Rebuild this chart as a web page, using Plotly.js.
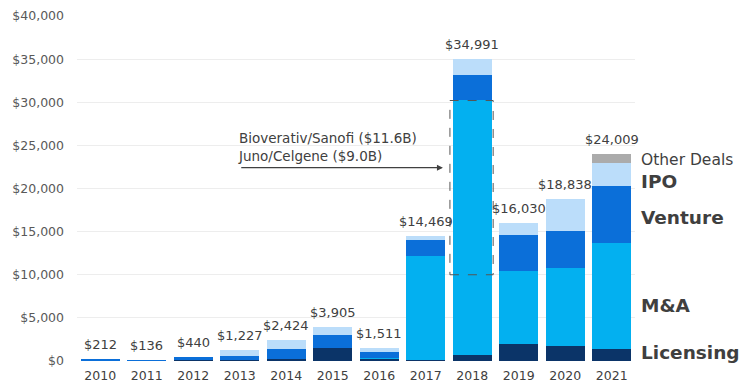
<!DOCTYPE html>
<html>
<head>
<meta charset="utf-8">
<script src="https://cdn.plot.ly/plotly-3.0.1.min.js"></script>
<style>html,body{margin:0;padding:0;background:#fff;}#chart{width:755px;height:388px;}</style>
</head>
<body>
<div id="chart"></div>
<script>
var years = ['2010','2011','2012','2013','2014','2015','2016','2017','2018','2019','2020','2021'];
var licensing = [0, 0, 100, 150, 200, 1500, 250, 100, 650, 2000, 1750, 1400];
var mna       = [0, 0, 0, 0, 0, 0, 150, 12100, 29620, 8420, 9040, 12290];
var venture   = [212, 136, 340, 400, 1190, 1470, 650, 1820, 2900, 4170, 4290, 6655];
var ipo       = [0, 0, 0, 677, 1034, 935, 461, 449, 1821, 1360, 3658, 2620];
var other     = [0, 0, 0, 0, 0, 0, 0, 0, 0, 80, 100, 1044];
var totals    = [212, 136, 440, 1227, 2424, 3905, 1511, 14469, 34991, 16030, 18838, 24009];
var seriesNames = ['Licensing', 'M&A', 'Venture', 'IPO', 'Other Deals'];
var seriesData = [licensing, mna, venture, ipo, other];
var colors = ['#0B3468', '#03B0F0', '#0B6FD9', '#BBDDFA', '#ABABAB'];
// highlighted deals inside 2018 M&A (in $M)
var boxRange = [10000, 30200];
var noteText = 'Bioverativ/Sanofi ($11.6B)<br>Juno/Celgene ($9.0B)';

var FONT = 'DejaVu Sans, sans-serif';
var traces = seriesData.map(function(d, i){
  return {type:'bar', x: years, y: d, name: seriesNames[i],
    marker:{color: colors[i], line:{width:0}}, hoverinfo:'skip'};
});

var annotations = totals.map(function(t, i){
  return {x: i, y: t, xref:'x', yref:'y', text: '$' + t.toLocaleString('en-US'),
    showarrow:false, yanchor:'bottom', yshift:5, font:{family:FONT, size:13, color:'#404040'}};
});

// right-hand series labels
var sideLabels = [
  {text:'Other Deals', y:23250, size:15.5, bold:false},
  {text:'IPO', y:20850, size:18.5, bold:true},
  {text:'Venture', y:16650, size:18.5, bold:true},
  {text:'M&A', y:6450, size:18.5, bold:true},
  {text:'Licensing', y:1000, size:18.5, bold:true}
];
sideLabels.forEach(function(s){
  annotations.push({xref:'paper', yref:'y', x:1.008, y:s.y, xanchor:'left', yanchor:'middle',
    text: s.bold ? '<b>'+s.text+'</b>' : s.text, showarrow:false,
    font:{family:FONT, size:s.size, color:'#3f3f3f'}});
});

annotations.push({xref:'paper', yref:'y', x:0.285, y:24800, xanchor:'left', yanchor:'middle', align:'left',
  text: noteText, showarrow:false, font:{family:FONT, size:13.5, color:'#404040'}});
annotations.push({xref:'x', yref:'y', x:7.37, y:22420, axref:'x', ayref:'y', ax:3.0, ay:22420,
  text:'', showarrow:true, arrowhead:2, arrowsize:1, arrowwidth:1.2, arrowcolor:'#404040'});

var layout = {
  width:755, height:388,
  margin:{l:77, r:120, t:16, b:27},
  paper_bgcolor:'#fff', plot_bgcolor:'#fff',
  barmode:'stack', bargap:0.16, showlegend:false,
  xaxis:{type:'category', range:[-0.5, 11.5], autorange:false, showgrid:false, zeroline:false, showline:false, ticks:'',
    tickfont:{family:FONT, size:12.5, color:'#404040'}, ticklabelstandoff:5, fixedrange:true},
  yaxis:{range:[0, 40000], autorange:false, dtick:5000, tickprefix:'$', tickformat:',d', showgrid:true,
    gridcolor:'#EDEDED', gridwidth:1, zeroline:false, showline:false, ticks:'',
    tickfont:{family:FONT, size:12.5, color:'#595959'}, ticklabelstandoff:12, fixedrange:true},
  shapes:[{type:'rect', xref:'x', yref:'y', x0:7.52, x1:8.45, y0:boxRange[0], y1:boxRange[1],
    line:{color:'#555555', width:1, dash:'dash'}, fillcolor:'rgba(0,0,0,0)'}],
  annotations: annotations
};
Plotly.newPlot('chart', traces, layout, {displayModeBar:false, staticPlot:true});
</script>
</body>
</html>
